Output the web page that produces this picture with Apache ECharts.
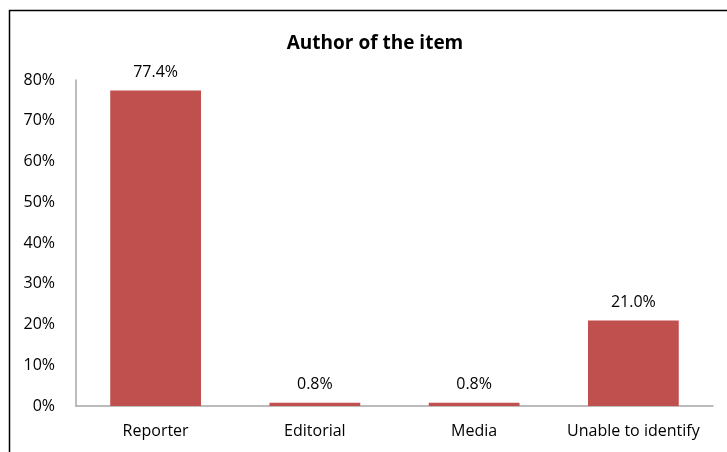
<!DOCTYPE html>
<html><head><meta charset="utf-8">
<script src="https://cdn.jsdelivr.net/npm/echarts@6/dist/echarts.min.js"></script>
<style>html,body{margin:0;padding:0;background:#fff}#c{width:727px;height:452px}</style>
</head><body><div id="c"></div>
<script>
var categories = ["Reporter", "Editorial", "Media", "Unable to identify"];
var values = [77.4, 0.8, 0.8, 21.0];
var yTicks = [0, 10, 20, 30, 40, 50, 60, 70, 80];
var title = "Author of the item";

var chart = echarts.init(document.getElementById('c'), null, {renderer: 'canvas'});
var font = "Open Sans";
chart.setOption({
  animation: false,
  backgroundColor: '#fff',
  graphic: [{type: 'rect', shape: {x: 9.5, y: 10.5, width: 730, height: 460}, style: {fill: 'none', stroke: '#000', lineWidth: 1.5}, silent: true}],
  title: {text: title, left: 370, top: 29, textAlign: 'center',
    textStyle: {fontFamily: font, fontWeight: 'bold', fontSize: 19, color: '#000'}},
  grid: {left: 76, right: 14, top: 80, bottom: 46},
  xAxis: {type: 'category', data: categories,
    axisLine: {lineStyle: {color: '#A6A6A6', width: 1.5}}, axisTick: {show: false},
    axisLabel: {interval: 0, hideOverlap: false, fontFamily: font, fontSize: 16, color: '#000', margin: 17}},
  yAxis: {type: 'value', min: yTicks[0], max: yTicks[yTicks.length - 1], interval: 10,
    axisLine: {show: true, lineStyle: {color: '#A6A6A6', width: 1.5}}, axisTick: {show: false},
    splitLine: {show: false},
    axisLabel: {fontFamily: font, fontSize: 16, color: '#000', margin: 21, formatter: '{value}%'}},
  series: [{type: 'bar', data: values, barWidth: '57%',
    itemStyle: {color: '#C0504D'},
    label: {show: true, position: 'top', distance: 10, fontFamily: font, fontSize: 16, color: '#000',
      formatter: function (p) { return p.value.toFixed(1) + '%'; }}}]
});
</script></body></html>
